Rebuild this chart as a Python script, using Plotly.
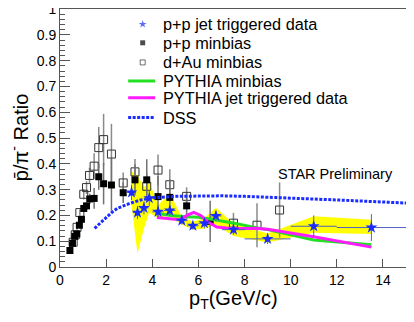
import plotly.graph_objects as go

FONT = "Liberation Sans, Arial, sans-serif"

# p+p minbias (filled squares)
mb_pt = [0.43, 0.54, 0.64, 0.73, 0.84, 0.93, 1.03, 1.15, 1.29, 1.48, 1.68, 1.89, 2.23, 2.74,
         3.25, 3.76, 4.25, 4.76, 5.49, 6.51]
mb_ratio = [0.064, 0.092, 0.119, 0.128, 0.162, 0.185, 0.227, 0.237, 0.264, 0.266, 0.350, 0.323,
            0.318, 0.288, 0.338, 0.338, 0.273, 0.270, 0.237, 0.177]
mb_err = [0.005, 0.006, 0.007, 0.007, 0.008, 0.009, 0.012, 0.014, 0.02, 0.04, 0.05, 0.08,
          0.10, 0.04, 0.06, 0.08, 0.08, 0.07, 0.05, 0.08]

# d+Au minbias (open squares)
dau_pt = [0.57, 0.66, 0.74, 0.86, 1.03, 1.15, 1.28, 1.48, 1.68, 1.89, 2.23, 2.74,
          3.25, 3.76, 4.25, 4.76, 5.49, 7.52, 8.54, 9.52]
dau_ratio = [0.096, 0.125, 0.154, 0.211, 0.282, 0.308, 0.355, 0.391, 0.463, 0.494, 0.438, 0.326,
             0.369, 0.313, 0.376, 0.319, 0.274, 0.170, 0.162, 0.221]
dau_err = [0.006, 0.008, 0.01, 0.012, 0.02, 0.025, 0.03, 0.05, 0.08, 0.10, 0.117, 0.04,
           0.05, 0.05, 0.06, 0.06, 0.035, 0.04, 0.085, 0.107]

# p+p jet triggered data (stars)
jet_pt = [3.10, 3.36, 3.64, 3.87, 4.25, 4.76, 5.28, 5.76, 6.26, 6.76, 7.52, 9.0, 11.0, 13.5]
jet_ratio = [0.289, 0.211, 0.229, 0.267, 0.214, 0.219, 0.180, 0.160, 0.170, 0.198, 0.145,
             0.109, 0.158, 0.153]
jet_err = [0.03, 0.025, 0.025, 0.03, 0.02, 0.02, 0.015, 0.015, 0.02, 0.02, 0.02, 0.02, 0.042, 0.052]
jet_xerr = [0.2, 0.2, 0.2, 0.2, 0.25, 0.25, 0.25, 0.25, 0.25, 0.25, 0.5, 1.0, 1.0, 1.5]
jet_sys_hi = [0.370, 0.355, 0.310, 0.330, 0.240, 0.285, 0.195, 0.175, 0.190, 0.230, 0.170,
              0.130, 0.197, 0.183]
jet_sys_lo = [0.240, 0.052, 0.150, 0.210, 0.190, 0.200, 0.165, 0.145, 0.148, 0.165, 0.120,
              0.095, 0.133, 0.128]

# PYTHIA minbias
pyth_mb_pt = [4.2, 4.8, 5.5, 6.0, 6.5, 7.0, 7.5, 8.5, 9.0, 11.0, 13.5]
pyth_mb_ratio = [0.208, 0.200, 0.195, 0.193, 0.186, 0.178, 0.171, 0.152, 0.145, 0.105, 0.086]

# PYTHIA jet triggered
pyth_jet_pt = [4.2, 4.8, 5.2, 5.5, 5.8, 6.1, 6.4, 6.8, 7.5, 8.5, 9.0, 11.0, 13.5]
pyth_jet_ratio = [0.192, 0.186, 0.183, 0.200, 0.212, 0.200, 0.175, 0.155, 0.148, 0.150, 0.146,
                  0.117, 0.077]

# DSS
dss_pt = [1.5, 1.75, 2.0, 2.25, 2.5, 2.75, 3.0, 3.5, 4.0, 5.0, 6.0, 7.0, 8.0, 9.0, 10.0, 11.0,
          12.0, 13.0, 14.0, 15.0]
dss_ratio = [0.150, 0.172, 0.193, 0.212, 0.228, 0.238, 0.246, 0.260, 0.268, 0.274, 0.276, 0.276,
             0.274, 0.271, 0.268, 0.264, 0.260, 0.256, 0.252, 0.248]

x_ticks = [0, 2, 4, 6, 8, 10, 12, 14]
y_ticks = [0, 0.1, 0.2, 0.3, 0.4, 0.5, 0.6, 0.7, 0.8, 0.9, 1]
y_ticklabels = ["0", "0.1", "0.2", "0.3", "0.4", "0.5", "0.6", "0.7", "0.8", "0.9", "1"]

legend_labels = ["p+p jet triggered data", "p+p minbias", "d+Au minbias", "PYTHIA minbias",
                 "PYTHIA jet triggered data", "DSS"]

BLUE = "#1a2cff"
GREEN = "#22e022"
MAGENTA = "#ff1aff"

fig = go.Figure()

# systematic band of jet triggered data
fig.add_trace(go.Scatter(
    x=jet_pt + jet_pt[::-1], y=jet_sys_hi + jet_sys_lo[::-1],
    fill="toself", fillcolor="rgb(255,255,0)", line=dict(width=0),
    mode="lines", hoverinfo="skip", showlegend=False))

fig.add_trace(go.Scatter(
    x=dau_pt, y=dau_ratio, mode="markers",
    marker=dict(symbol="square-open", size=8, color="#333333", line=dict(width=1)),
    error_y=dict(type="data", array=dau_err, color="#8a8a8a", thickness=1.5, width=0),
    showlegend=False))

fig.add_trace(go.Scatter(
    x=mb_pt, y=mb_ratio, mode="markers",
    marker=dict(symbol="square", size=7, color="black"),
    error_y=dict(type="data", array=mb_err, color="#707070", thickness=1.5, width=0),
    showlegend=False))

fig.add_trace(go.Scatter(x=pyth_mb_pt, y=pyth_mb_ratio, mode="lines",
                         line=dict(color=GREEN, width=3), showlegend=False))
fig.add_trace(go.Scatter(x=pyth_jet_pt, y=pyth_jet_ratio, mode="lines",
                         line=dict(color=MAGENTA, width=3), showlegend=False))
fig.add_trace(go.Scatter(x=dss_pt, y=dss_ratio, mode="lines",
                         line=dict(color=BLUE, width=3, dash="3px,1.5px"), showlegend=False))

fig.add_trace(go.Scatter(
    x=jet_pt, y=jet_ratio, mode="markers",
    marker=dict(symbol="star", size=9, color=BLUE, line=dict(width=0)),
    error_y=dict(type="data", array=jet_err, color="#5060c0", thickness=1, width=0),
    error_x=dict(type="data", array=jet_xerr, color="#5060c0", thickness=1, width=0),
    showlegend=False))

# hand drawn legend (no box), positions in plot-area fractions
row_y = [0.941, 0.869, 0.793, 0.721, 0.656, 0.579]
text_x = 0.292
glyph_x = 0.239
fig.add_trace(go.Scatter(
    x=[glyph_x] * 3, y=row_y[:3], mode="markers", xaxis="x2", yaxis="y2",
    marker=dict(symbol=["star", "square", "square-open"], size=[6, 5, 5],
                color=[BLUE, "black", "#333333"], line=dict(width=[0, 0, 1])),
    hoverinfo="skip", showlegend=False))
for yy, col, dash in zip(row_y[3:], [GREEN, MAGENTA, BLUE], ["solid", "solid", "3px,1.5px"]):
    fig.add_trace(go.Scatter(
        x=[0.197, 0.275], y=[yy, yy], mode="lines", xaxis="x2", yaxis="y2",
        line=dict(color=col, width=3, dash=dash), hoverinfo="skip", showlegend=False))
for yy, lab in zip(row_y, legend_labels):
    fig.add_annotation(text=lab, x=text_x, y=yy, xref="paper", yref="paper",
                       xanchor="left", yanchor="middle", showarrow=False,
                       font=dict(size=16.3, color="black", family=FONT))

fig.add_annotation(text="STAR Preliminary", x=0.968, y=0.36, xref="paper", yref="paper",
                   xanchor="right", yanchor="middle", showarrow=False,
                   font=dict(size=14.5, color="black", family=FONT))

fig.add_annotation(text="p<sub>T</sub>(GeV/c)", x=0.5, y=-0.125, xref="paper", yref="paper",
                   xanchor="center", yanchor="middle", showarrow=False,
                   font=dict(size=20, color="black", family=FONT))
fig.add_annotation(text="p\u0304/\u03c0<sup>-</sup> Ratio", x=-0.121, y=0.5, xref="paper",
                   yref="paper", textangle=-90, xanchor="center", yanchor="middle",
                   showarrow=False, font=dict(size=20, color="black", family=FONT))

# page body keeps an 8px margin, so the figure is sized to the remaining window
fig.update_layout(
    width=406, height=314,
    margin=dict(l=52, r=8, t=1, b=55),
    paper_bgcolor="white", plot_bgcolor="white",
    font=dict(family=FONT, color="black", size=14),
    xaxis=dict(range=[0, 15], tickvals=x_ticks, ticks="inside",
               ticklen=8, tickcolor="#555555", showgrid=False, zeroline=False,
               showline=True, linecolor="#555555", mirror=True, automargin=False,
               tickfont=dict(size=14)),
    yaxis=dict(range=[0, 1.0005], tickvals=y_ticks, ticktext=y_ticklabels, ticks="inside",
               ticklen=10, tickcolor="#555555", showgrid=False, zeroline=False,
               showline=True, linecolor="#555555", mirror=True, automargin=False,
               ticklabeloverflow="allow",
               minor=dict(dtick=0.02, ticks="inside", ticklen=5, tickcolor="#555555"),
               tickfont=dict(size=14)),
    xaxis2=dict(overlaying="x", range=[0, 1], visible=False),
    yaxis2=dict(overlaying="y", range=[0, 1], visible=False),
    showlegend=False,
)

fig.write_html("out.html")
